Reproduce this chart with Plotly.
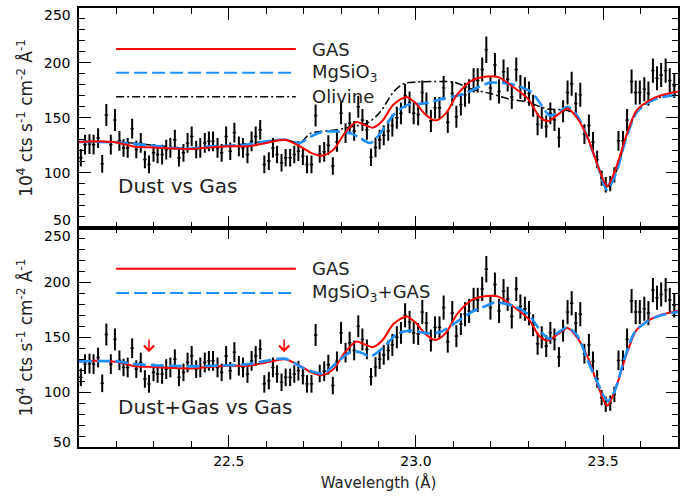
import plotly.graph_objects as go
from plotly.subplots import make_subplots

# ---------------- data ----------------
WAVE = [22.105, 22.116, 22.128, 22.139, 22.151, 22.162, 22.173, 22.185, 22.196, 22.208,
        22.219, 22.230, 22.242, 22.253, 22.265, 22.276, 22.287, 22.299, 22.310, 22.322,
        22.333, 22.344, 22.356, 22.367, 22.379, 22.390, 22.401, 22.413, 22.424, 22.436,
        22.447, 22.458, 22.470, 22.481, 22.493, 22.504, 22.515, 22.527, 22.538, 22.550,
        22.561, 22.572, 22.584, 22.595, 22.607, 22.618, 22.629, 22.641, 22.652, 22.664,
        22.675, 22.686, 22.698, 22.709, 22.721, 22.732, 22.743, 22.755, 22.766, 22.778,
        22.789, 22.800, 22.812, 22.823, 22.835, 22.846, 22.857, 22.869, 22.880, 22.892,
        22.903, 22.914, 22.926, 22.937, 22.949, 22.960, 22.971, 22.983, 22.994, 23.006,
        23.017, 23.028, 23.040, 23.051, 23.063, 23.074, 23.085, 23.097, 23.108, 23.120,
        23.131, 23.142, 23.154, 23.165, 23.177, 23.188, 23.199, 23.211, 23.222, 23.234,
        23.245, 23.256, 23.268, 23.279, 23.291, 23.302, 23.313, 23.325, 23.336, 23.348,
        23.359, 23.370, 23.382, 23.393, 23.405, 23.416, 23.427, 23.439, 23.450, 23.462,
        23.473, 23.484, 23.496, 23.507, 23.519, 23.530, 23.541, 23.553, 23.564, 23.576,
        23.587, 23.598, 23.610, 23.621, 23.633, 23.644, 23.655, 23.667, 23.678, 23.690]

FLUX = [113.5, 125.5, 126, 125.5, 131.5, 108, 152.5, 125.5, 148, 129,
        122.5, 122.5, 140, 121, 127, 112, 107.5, 118, 116.5, 116.5,
        121, 122.5, 130, 113.5, 118, 127, 133, 121, 122.5, 127,
        128.5, 128.5, 122.5, 118, 133, 119.5, 136.5, 124, 122.5, 116.5,
        128.5, 133, 139, 107.5, 110.5, 122.5, 116.5, 109, 113.5, 113.5,
        116.5, 119.5, 115, 107.5, 107.5, 152, 117, 119, 125, 106,
        128, 154, 136, 145, 138, 160, 148, 139, 114, 123,
        130, 134, 138, 143, 150, 154, 170, 164, 154, 153,
        173, 163, 147, 159, 159, 177, 146, 172, 151, 162,
        171, 174, 184, 184, 194, 212, 177, 198, 174, 192,
        185, 169, 194, 178, 176, 172, 161, 144, 150, 142,
        154, 148, 132, 156, 173, 181, 163, 171, 135, 143,
        128, 112, 95, 89, 90, 98, 129, 129, 148, 183,
        173, 173, 176, 172, 193, 186, 189, 193, 184, 179]

FLUX_ERR = [8, 9, 9, 9, 9, 8, 10, 9, 10, 9,
            8, 9, 9, 8, 9, 8, 8, 8, 8, 9,
            9, 9, 9, 8, 8, 9, 9, 8, 9, 9,
            9, 9, 9, 8, 9, 8, 9, 9, 9, 8,
            9, 9, 9, 8, 8, 9, 8, 8, 8, 8,
            8, 9, 8, 8, 8, 10, 8, 9, 9, 8,
            9, 10, 9, 10, 9, 10, 10, 9, 8, 9,
            9, 9, 9, 10, 10, 10, 11, 10, 10, 10,
            11, 10, 10, 10, 10, 11, 10, 11, 10, 10,
            11, 11, 11, 11, 11, 12, 11, 11, 11, 11,
            11, 11, 11, 11, 11, 11, 10, 10, 10, 10,
            10, 10, 9, 10, 11, 11, 10, 11, 9, 10,
            9, 8, 7, 7, 7, 7, 9, 9, 10, 11,
            11, 11, 11, 11, 11, 11, 11, 11, 11, 11]

GAS_X = [22.10, 22.15, 22.20, 22.25, 22.30, 22.35, 22.40, 22.45, 22.50, 22.55,
         22.60, 22.65, 22.69, 22.72, 22.75, 22.78, 22.81, 22.84, 22.86, 22.885,
         22.91, 22.94, 22.975, 23.00, 23.025, 23.052, 23.08, 23.11, 23.15, 23.19,
         23.22, 23.26, 23.30, 23.33, 23.352, 23.38, 23.405, 23.43, 23.46, 23.485,
         23.511, 23.535, 23.565, 23.59, 23.63, 23.66, 23.70]
GAS_Y = [128, 128.5, 127.5, 123.5, 123, 122, 121.5, 123, 124, 124,
         127, 130, 124, 118, 115.5, 121, 136, 146, 144, 141,
         147, 162, 169, 163, 153, 147.5, 154, 171, 184, 187.5,
         187, 178, 167, 151, 147, 153, 158.5, 150, 131, 107,
         87.5, 105, 137, 157, 167, 171, 174]

MGSIO3_X = [22.10, 22.20, 22.25, 22.30, 22.35, 22.40, 22.45, 22.50, 22.55, 22.60,
            22.65, 22.69, 22.72, 22.75, 22.79, 22.825, 22.851, 22.878, 22.905, 22.94,
            22.976, 23.02, 23.075, 23.13, 23.18, 23.20, 23.25, 23.28, 23.31, 23.336,
            23.358, 23.38, 23.405, 23.43, 23.457, 23.485, 23.51, 23.535, 23.563, 23.59,
            23.626, 23.66, 23.70]
MGSIO3_Y = [128, 127.5, 126, 124.5, 122.5, 122, 124, 124.5, 125.5, 128.5,
            130, 127, 133, 137, 137.5, 136, 131.5, 127, 136, 152.5,
            161.5, 163, 167.5, 172, 180, 182, 181, 178, 173, 161,
            152, 155, 160, 152, 133, 107, 84.5, 100, 133, 155,
            165, 169, 171]

OLIVINE_X = [22.10, 22.20, 22.30, 22.40, 22.50, 22.60, 22.65, 22.69, 22.72, 22.79,
             22.83, 22.87, 22.905, 22.94, 22.967, 23.00, 23.05, 23.10, 23.15, 23.20,
             23.25, 23.30, 23.35, 23.40, 23.43, 23.457, 23.485, 23.51, 23.535, 23.563,
             23.59, 23.626, 23.66, 23.70]
OLIVINE_Y = [128, 128, 125, 122, 124.5, 128.5, 130, 127.5, 136, 139,
             142, 145, 155.5, 173.5, 181, 182.5, 183, 182.5, 176, 172,
             167, 164, 158, 157, 152, 133, 107, 86, 101, 134,
             155.5, 165.5, 169.5, 171.5]

MIX_X = [22.10, 22.20, 22.25, 22.30, 22.35, 22.40, 22.45, 22.50, 22.55, 22.60,
         22.65, 22.69, 22.727, 22.753, 22.79, 22.825, 22.851, 22.878, 22.914, 22.949,
         22.985, 23.03, 23.065, 23.10, 23.146, 23.19, 23.21, 23.26, 23.30, 23.336,
         23.358, 23.38, 23.404, 23.431, 23.457, 23.484, 23.512, 23.53, 23.557, 23.584,
         23.62, 23.655, 23.70]
MIX_Y = [128, 128, 125.5, 124.5, 124, 123.5, 124, 124.5, 125.5, 128.5,
         130.5, 123.5, 118.3, 117, 127.4, 136.4, 136.4, 132.5, 141, 153,
         156, 153.6, 154.7, 162, 172.5, 179, 181.6, 178.6, 171, 154.4,
         148.5, 154.4, 159, 151.5, 130.4, 109.4, 92, 100.4, 130.4, 154.4,
         165, 170, 173]

ARROW_X = [22.287, 22.648]
ARROW_TIP = 136.4
ARROW_TAIL = 149.4

TOP_LEGEND = ["GAS", "MgSiO<sub>3</sub>", "Olivine"]
BOTTOM_LEGEND = ["GAS", "MgSiO<sub>3</sub>+GAS"]
PANEL_LABELS = ["Dust vs Gas", "Dust+Gas vs Gas"]
Y_TITLE = "10<sup>4</sup> cts s<sup>-1</sup> cm<sup>-2</sup> Å<sup>-1</sup>"
X_TITLE = "Wavelength (Å)"

# ---------------- styles ----------------
RED = "#ff0000"
BLUE = "#1e8fff"
FONT = "DejaVu Sans"
TXT = "#222222"
RED_LINE = dict(color=RED, width=2)
BLUE_LINE = dict(color=BLUE, width=2.6, dash="13px,5px")
OLI_LINE = dict(color="black", width=1.5, dash="8px,3px,2px,3px")

fig = make_subplots(rows=2, cols=1, shared_xaxes=True, vertical_spacing=0)

for row in (1, 2):
    fig.add_trace(go.Scatter(
        x=WAVE, y=FLUX, mode="markers",
        marker=dict(size=1, color="black"),
        error_y=dict(type="data", array=FLUX_ERR, color="black", thickness=2, width=0),
        error_x=dict(type="constant", value=0.0045, color="black", thickness=1.5, width=0),
        showlegend=False, hoverinfo="skip"), row=row, col=1)

# top panel models
fig.add_trace(go.Scatter(x=OLIVINE_X, y=OLIVINE_Y, mode="lines", line=dict(**OLI_LINE, shape="spline", smoothing=0.8),
                         showlegend=False), row=1, col=1)
fig.add_trace(go.Scatter(x=MGSIO3_X, y=MGSIO3_Y, mode="lines", line=dict(**BLUE_LINE, shape="spline", smoothing=0.8),
                         showlegend=False), row=1, col=1)
fig.add_trace(go.Scatter(x=GAS_X, y=GAS_Y, mode="lines", line=dict(**RED_LINE, shape="spline", smoothing=0.8),
                         showlegend=False), row=1, col=1)
# bottom panel models
fig.add_trace(go.Scatter(x=GAS_X, y=GAS_Y, mode="lines", line=dict(**RED_LINE, shape="spline", smoothing=0.8),
                         showlegend=False), row=2, col=1)
fig.add_trace(go.Scatter(x=MIX_X, y=MIX_Y, mode="lines", line=dict(**BLUE_LINE, shape="spline", smoothing=0.8),
                         showlegend=False), row=2, col=1)

axis_common = dict(showline=True, linecolor="black", linewidth=1.5, mirror="allticks",
                   ticks="inside", ticklen=12, tickwidth=1.2, tickcolor="black",
                   showgrid=False, zeroline=False,
                   tickfont=dict(family=FONT, size=14, color="black"))

for row in (1, 2):
    fig.update_xaxes(range=[22.1, 23.7], tick0=22.0, dtick=0.5, tickformat=".1f",
                     minor=dict(ticks="inside", ticklen=6, dtick=0.1, tick0=22.0, tickcolor="black", tickwidth=1.2),
                     showticklabels=(row == 2), **axis_common, row=row, col=1)
    fig.update_yaxes(range=[50, 250], tickmode="array", tickvals=[100, 150, 200],
                     minor=dict(ticks="inside", ticklen=6, dtick=10, tick0=50, tickcolor="black", tickwidth=1.2),
                     ticklabelstandoff=4, **axis_common, row=row, col=1)

fig.update_xaxes(title=dict(text=X_TITLE, font=dict(family=FONT, size=15, color=TXT), standoff=10), row=2, col=1)

annotations = []
shapes = []
LEG_X0, LEG_X1, LEG_TX = 0.062, 0.362, 0.386
# top legend
for lbl, style, yy in zip(TOP_LEGEND, [RED_LINE, BLUE_LINE, OLI_LINE], [0.813, 0.705, 0.596]):
    shapes.append(dict(type="line", xref="x domain", yref="y domain", x0=LEG_X0, x1=LEG_X1, y0=yy, y1=yy,
                       line=dict(color=style["color"], width=min(style["width"], 2), dash=style.get("dash", "solid"))))
    annotations.append(dict(xref="x domain", yref="y domain", x=LEG_TX, y=yy, text=lbl, showarrow=False,
                            xanchor="left", yanchor="middle", font=dict(family=FONT, size=18, color=TXT)))
for lbl, style, yy in zip(BOTTOM_LEGEND, [RED_LINE, BLUE_LINE], [0.812, 0.702]):
    shapes.append(dict(type="line", xref="x2 domain", yref="y2 domain", x0=LEG_X0, x1=LEG_X1, y0=yy, y1=yy,
                       line=dict(color=style["color"], width=min(style["width"], 2), dash=style.get("dash", "solid"))))
    annotations.append(dict(xref="x2 domain", yref="y2 domain", x=LEG_TX, y=yy, text=lbl, showarrow=False,
                            xanchor="left", yanchor="middle", font=dict(family=FONT, size=18, color=TXT)))
# panel labels
annotations.append(dict(xref="x domain", yref="y domain", x=LEG_X0, y=0.189, text=PANEL_LABELS[0], showarrow=False,
                        xanchor="left", yanchor="middle", font=dict(family=FONT, size=20, color=TXT)))
annotations.append(dict(xref="x2 domain", yref="y2 domain", x=LEG_X0, y=0.184, text=PANEL_LABELS[1], showarrow=False,
                        xanchor="left", yanchor="middle", font=dict(family=FONT, size=20, color=TXT)))
# y titles
for xr, yr in (("x domain", "y domain"), ("x2 domain", "y2 domain")):
    annotations.append(dict(xref=xr, yref=yr, x=-0.09, y=0.5, text=Y_TITLE, textangle=-90, showarrow=False,
                            xanchor="center", yanchor="middle", font=dict(family=FONT, size=17, color=TXT)))
# edge y tick labels (shifted like the original)
for xr, yr, val, shift in (("x domain", "y", 250, -7), ("x domain", "y", 50, 8),
                           ("x2 domain", "y2", 250, -8.5), ("x2 domain", "y2", 50, 5)):
    annotations.append(dict(xref=xr, yref=yr, x=0, y=val, text=str(val), showarrow=False, xanchor="right",
                            yanchor="middle", xshift=-6, yshift=shift, font=dict(family=FONT, size=14, color="black")))
# red arrows
for ax_ in ARROW_X:
    annotations.append(dict(xref="x2", yref="y2", axref="x2", ayref="y2", x=ax_, y=ARROW_TIP, ax=ax_, ay=ARROW_TAIL,
                            text="", showarrow=True, arrowhead=4, arrowsize=1.3, arrowwidth=1.5, arrowcolor=RED))

fig.update_layout(width=695, height=497, margin=dict(l=79, r=17, t=6, b=50),
                  paper_bgcolor="white", plot_bgcolor="white", showlegend=False,
                  annotations=annotations, shapes=shapes, font=dict(family=FONT))

fig.write_html("out.html", config={"displayModeBar": False},
               post_script="document.body.style.margin='0px';document.body.style.padding='0px';")
